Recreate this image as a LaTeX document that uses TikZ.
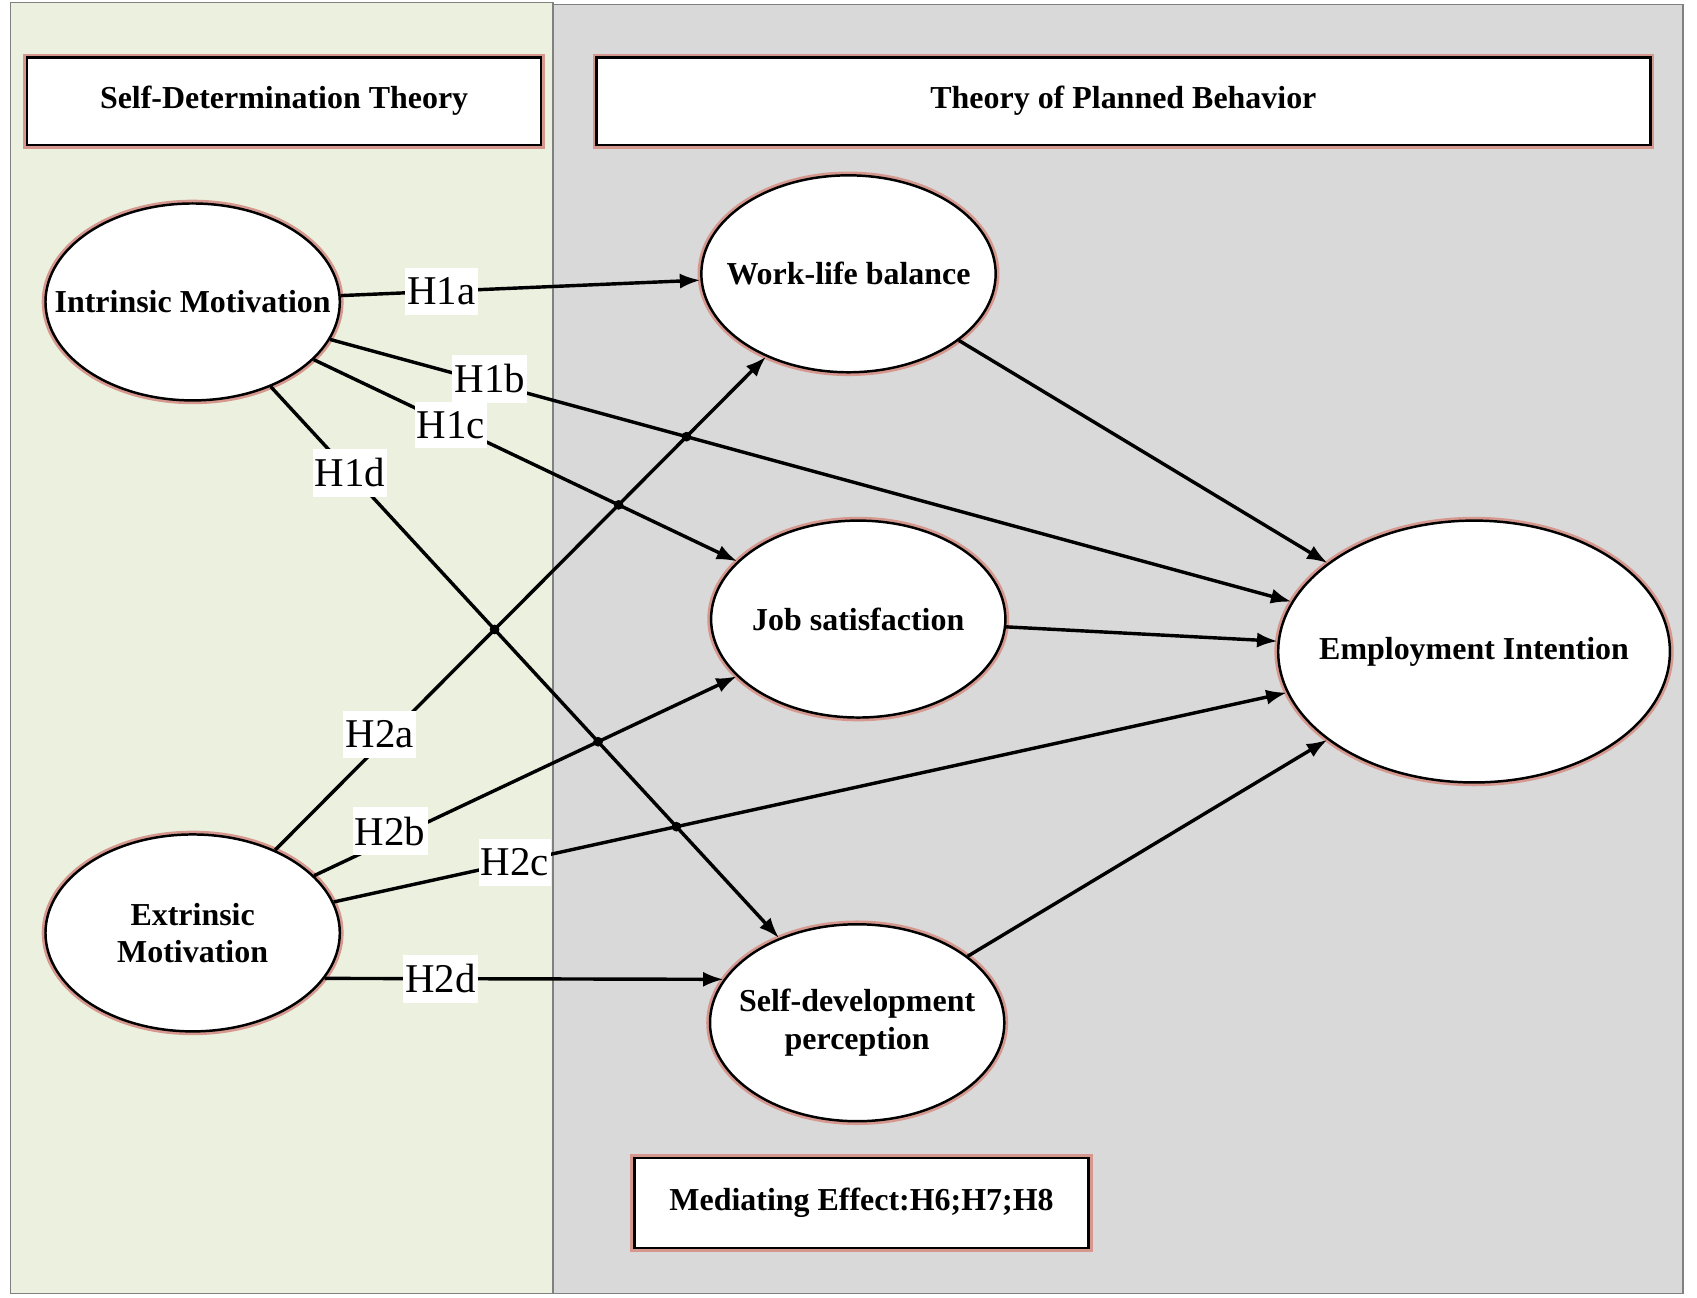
\documentclass[tikz,border=0pt]{standalone}
\usepackage{fontspec}
\setmainfont{Liberation Serif}
\usetikzlibrary{shapes.geometric,arrows.meta,intersections}
\definecolor{sdtgreen}{RGB}{235,241,222}
\definecolor{tpbgray}{RGB}{217,217,217}
\definecolor{glowc}{RGB}{214,152,142}
\definecolor{panelline}{RGB}{128,128,128}
\newcommand{\boldtxt}{\bfseries\fontsize{16.8}{19.8}\selectfont}
\tikzset{
  panel/.style={draw=panelline, line width=0.6pt},
  titlebox/.style={rectangle, draw=black, fill=white, line width=1.4pt, preaction={draw=glowc, line width=4pt}, inner sep=0pt, font=\boldtxt},
  oval/.style={ellipse, draw=black, fill=white, line width=1.3pt, preaction={draw=glowc, line width=4pt}, inner sep=0pt, minimum width=5.44cm, minimum height=3.64cm},
  bigoval/.style={oval, minimum width=7.24cm, minimum height=4.84cm},
  ovaltext/.style={font=\boldtxt, align=center, inner sep=0pt},
  conn/.style={line width=1.8pt, -{Latex[length=0.38cm,width=0.28cm]}},
  hlab/.style={fill=white, inner xsep=0.04cm, inner ysep=0.18cm, font=\fontsize{21.5}{21.5}\selectfont},
  jdot/.style={fill=black},
}
\begin{document}
\begin{tikzpicture}[x=0.02cm,y=-0.02cm]
\useasboundingbox (0,0) rectangle (1568,1199);
\draw[panel, fill=sdtgreen] (10,2) rectangle (511,1195);
\draw[panel, fill=tpbgray] (511,4) rectangle (1555,1195);

\node[titlebox, minimum width=9.5cm, minimum height=1.62cm] (sdt) at (262.5,93.5) {Self-Determination Theory};
\node[titlebox, minimum width=19.48cm, minimum height=1.62cm] (tpb) at (1038,93.5) {Theory of Planned Behavior};
\node[titlebox, minimum width=8.4cm, minimum height=1.66cm] (med) at (796,1111.5) {Mediating Effect:H6;H7;H8};

\node[oval] (IM) at (178,279) {};
\node[oval] (EM) at (178,862) {};
\node[oval] (WLB) at (784,253) {};
\node[oval] (JS) at (793,572) {};
\node[oval] (SD) at (792,945) {};
\node[bigoval] (EI) at (1362,602) {};

\node[ovaltext] (IMt) at (IM) {Intrinsic Motivation};
\node[ovaltext] (EMt) at (EM) {Extrinsic\\Motivation};
\node[ovaltext] (WLBt) at (WLB) {Work-life balance};
\node[ovaltext] (JSt) at (JS) {Job satisfaction};
\node[ovaltext] (SDt) at (SD) {Self-development\\perception};
\node[ovaltext] (EIt) at (EI) {Employment Intention};

\draw[conn, name path=h1a] (IM) -- node[hlab, pos=0.28] (l1a) {H1a} (WLB);
\draw[conn, name path=h1b] (IM) -- node[hlab, pos=0.166, yshift=0.08cm] (l1b) {H1b} (EI);
\draw[conn, name path=h1c] (IM) -- node[hlab, pos=0.324] (l1c) {H1c} (JS);
\draw[conn, name path=h1d] (IM) -- node[hlab, pos=0.156] (l1d) {H1d} (SD);
\draw[conn, name path=h2a] (EM) -- node[hlab, pos=0.235, xshift=-0.2cm] (l2a) {H2a} (WLB);
\draw[conn, name path=h2b] (EM) -- node[hlab, pos=0.18, yshift=0.16cm] (l2b) {H2b} (JS);
\draw[conn, name path=h2c] (EM) -- node[hlab, pos=0.19] (l2c) {H2c} (EI);
\draw[conn, name path=h2d] (EM.-19) -- node[hlab, pos=0.29] (l2d) {H2d} (SD.162);
\draw[conn] (WLB) -- (EI);
\draw[conn] (JS) -- (EI);
\draw[conn] (SD) -- (EI);

\fill[jdot, name intersections={of=h1b and h2a, name=ia}] (ia-1) circle[radius=0.09cm];
\fill[jdot, name intersections={of=h1c and h2a, name=ib}] (ib-1) circle[radius=0.09cm];
\fill[jdot, name intersections={of=h1d and h2a, name=ic}] (ic-1) circle[radius=0.09cm];
\fill[jdot, name intersections={of=h1d and h2b, name=id}] (id-1) circle[radius=0.09cm];
\fill[jdot, name intersections={of=h1d and h2c, name=ie}] (ie-1) circle[radius=0.09cm];
\end{tikzpicture}
\end{document}
